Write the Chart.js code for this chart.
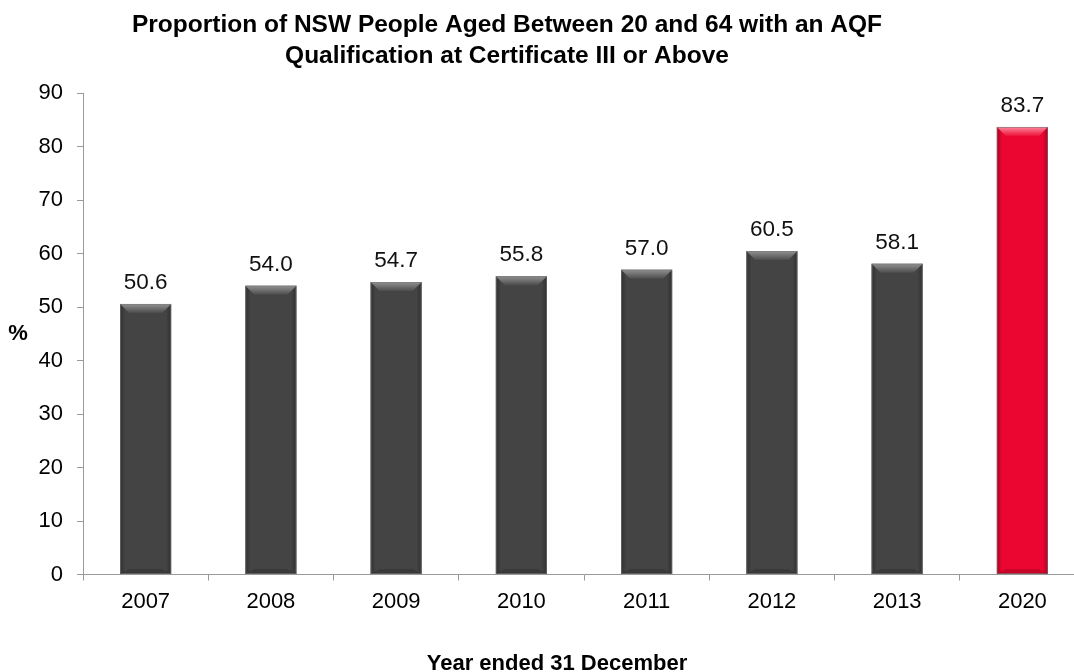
<!DOCTYPE html>
<html>
<head>
<meta charset="utf-8">
<script src="https://cdn.jsdelivr.net/npm/chart.js@4.4.1/dist/chart.umd.min.js"></script>
<style>
    html, body { margin: 0; padding: 0; background: #fff; overflow: hidden; }
    #wrap { position: absolute; left: -71px; top: 0; width: 1156px; height: 672px; }
</style>
</head>
<body>
<div id="wrap"><canvas id="chart"></canvas></div>
<script>
const years = ['2007', '2008', '2009', '2010', '2011', '2012', '2013', '2020'];
const proportion = [50.6, 54.0, 54.7, 55.8, 57.0, 60.5, 58.1, 83.7];
const targetYear = '2020';
const titleLines = [
    'Proportion of NSW People Aged Between 20 and 64 with an AQF',
    'Qualification at Certificate III or Above'
];
const xTitle = 'Year ended 31 December';
const yTitle = '%';

const FONT = '"Liberation Sans", Arial, Helvetica, sans-serif';
const GREY = '#444444';
const RED = '#EA0630';
const AXIS = '#9a9a9a';

// bevelled look of the bars
const bevel = {
    id: 'bevel',
    afterDatasetsDraw(chart) {
        const ctx = chart.ctx;
        chart.getDatasetMeta(0).data.forEach((bar, i) => {
            const hi = years[i] === targetYear;
            const l = bar.x - bar.width / 2, r = bar.x + bar.width / 2;
            const t = bar.y, b = bar.base;
            const d = 9;
            ctx.save();
            let g = ctx.createLinearGradient(l, 0, r, 0);
            g.addColorStop(0, 'rgba(0,0,0,0.30)');
            g.addColorStop(0.1, 'rgba(0,0,0,0)');
            g.addColorStop(0.9, 'rgba(0,0,0,0)');
            g.addColorStop(1, 'rgba(0,0,0,0.30)');
            ctx.fillStyle = g;
            ctx.fillRect(l, t, r - l, b - t);
            g = ctx.createLinearGradient(0, t, 0, t + d);
            g.addColorStop(0, hi ? 'rgba(255,140,160,0.95)' : 'rgba(150,150,150,0.95)');
            g.addColorStop(1, hi ? 'rgba(255,140,160,0.1)' : 'rgba(150,150,150,0.1)');
            ctx.beginPath();
            ctx.moveTo(l, t);
            ctx.lineTo(r, t);
            ctx.lineTo(r - d, t + d);
            ctx.lineTo(l + d, t + d);
            ctx.closePath();
            ctx.fillStyle = g;
            ctx.fill();
            ctx.beginPath();
            ctx.moveTo(l, b);
            ctx.lineTo(r, b);
            ctx.lineTo(r - d, b - 5);
            ctx.lineTo(l + d, b - 5);
            ctx.closePath();
            ctx.fillStyle = 'rgba(0,0,0,0.15)';
            ctx.fill();
            ctx.strokeStyle = 'rgba(120,120,120,0.6)';
            ctx.lineWidth = 1;
            ctx.strokeRect(l + 0.5, t + 0.5, r - l - 1, b - t - 1);
            ctx.restore();
        });
    }
};

// values above bars and the two axis titles
const labels = {
    id: 'labels',
    afterDraw(chart) {
        const ctx = chart.ctx;
        const area = chart.chartArea;
        ctx.save();
        ctx.fillStyle = '#111';
        ctx.font = '22.5px ' + FONT;
        ctx.textAlign = 'center';
        ctx.textBaseline = 'alphabetic';
        chart.getDatasetMeta(0).data.forEach((bar, i) => {
            ctx.fillText(proportion[i].toFixed(1), bar.x, bar.y - 15);
        });
        ctx.fillStyle = '#000';
        ctx.font = 'bold 22px ' + FONT;
        ctx.textBaseline = 'middle';
        ctx.fillText(yTitle, area.left - 65, (area.top + area.bottom) / 2);
        ctx.fillText(xTitle, (area.left + area.right) / 2 - 27, area.bottom + 89);
        ctx.restore();
    }
};

new Chart(document.getElementById('chart'), {
    type: 'bar',
    data: {
        labels: years,
        datasets: [{
            data: proportion,
            backgroundColor: years.map(y => y === targetYear ? RED : GREY),
            borderWidth: 0,
            categoryPercentage: 0.8,
            barPercentage: 0.51
        }]
    },
    options: {
        responsive: true,
        maintainAspectRatio: false,
        animation: false,
        layout: { padding: 0 },
        plugins: {
            legend: { display: false },
            tooltip: { enabled: false },
            title: {
                display: true,
                text: titleLines,
                color: '#000',
                font: { family: FONT, size: 24.5, weight: 'bold', lineHeight: 1.25 },
                padding: { top: 10, bottom: 22 }
            }
        },
        scales: {
            x: {
                grid: { display: true, drawOnChartArea: false, tickLength: 6, color: AXIS, offset: true },
                border: { color: AXIS },
                ticks: { color: '#000', font: { family: FONT, size: 22 }, padding: 8 },
                afterFit: s => { s.height = 97.5; }
            },
            y: {
                min: 0,
                max: 90,
                grid: { display: true, drawOnChartArea: false, tickLength: 6, color: AXIS },
                border: { color: AXIS },
                ticks: { stepSize: 10, color: '#000', font: { family: FONT, size: 22 }, padding: 14 },
                afterFit: s => { s.width = 154; }
            }
        }
    },
    plugins: [bevel, labels]
});
</script>
</body>
</html>
